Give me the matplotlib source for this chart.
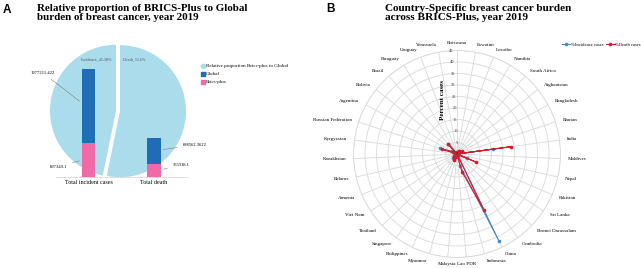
import numpy as np
import matplotlib.pyplot as plt

# ---- Panel A data
pie_labels = ["Incidence, 45.38%", "Death, 51.6%"]
pie_values = [45.38, 51.6]
bar_categories = ["Total incident cases", "Total death"]
brics_values = [897349.1, 355318.1]
global_values = [1977211.422, 688562.3622]

# ---- Panel B data (% of BRICS-Plus)
countries = ["Botswana", "Eswatini", "Lesotho", "Namibia", "South Africa", "Afghanistan",
             "Bangladesh", "Bhutan", "India", "Maldives", "Nepal", "Pakistan", "Sri Lanka",
             "Brunei Darussalam", "Cambodia", "China", "Indonesia", "Lao PDR", "Malaysia",
             "Myanmar", "Philippines", "Singapore", "Thailand", "Viet Nam", "Armenia",
             "Belarus", "Kazakhstan", "Kyrgyzstan", "Russian Federation", "Argentina",
             "Bolivia", "Brazil", "Paraguay", "Uruguay", "Venezuela"]
incidence_pct = [0.1, 0.05, 0.05, 0.1, 1.5, 0.6, 1.9, 0.02, 16.0, 0.01, 0.4, 4.5, 0.5,
                 0.02, 0.2, 42.0, 5.5, 0.1, 0.8, 1.0, 2.6, 0.3, 2.3, 1.6, 0.2, 0.5, 0.6,
                 0.1, 8.0, 2.3, 0.2, 6.0, 0.2, 0.3, 0.8]
death_pct = [0.1, 0.05, 0.06, 0.1, 1.5, 1.1, 2.6, 0.02, 23.5, 0.01, 0.6, 9.0, 0.6,
             0.02, 0.3, 27.0, 8.0, 0.1, 0.9, 1.5, 3.0, 0.2, 2.0, 1.8, 0.2, 0.6, 0.7,
             0.1, 7.0, 1.9, 0.3, 6.0, 0.2, 0.2, 0.8]
r_ticks = [0, 5, 10, 15, 20, 25, 30, 35, 40, 45]

light_blue = "#abdcec"
dark_blue = "#1f6db5"
pink = "#f06aa8"
inc_color = "#4a8ac4"
death_color = "#d0202e"
serif = "Liberation Serif"

W, H = 641, 268
fig = plt.figure(figsize=(W / 100, H / 100), dpi=100)

def px(x, y, w, h):
    # pixel box (from top-left) -> figure fraction
    return [x / W, 1 - (y + h) / H, w / W, h / H]

# panel letters and titles
fig.text(3 / W, 1 - 4 / H, "A", fontsize=8.5, fontweight="bold", family="Liberation Sans", va="top")
fig.text(326 / W, 1 - 3 / H, "B", fontsize=8.5, fontweight="bold", family="Liberation Sans", va="top")
fig.text(37 / W, 1 - 4 / H, "Relative proportion of BRICS-Plus to Global\nburden of breast cancer, year 2019",
         fontsize=7.9, fontweight="bold", family=serif, va="top", linespacing=1.0)
fig.text(385 / W, 1 - 4 / H, "Country-Specific breast cancer burden\nacross BRICS-Plus, year 2019",
         fontsize=8.1, fontweight="bold", family=serif, va="top", linespacing=1.0)

# ---- Panel A: pie behind
ax_pie = fig.add_axes(px(118 - 70, 111 - 70, 140, 140))
ax_pie.pie(pie_values, colors=[light_blue, light_blue], startangle=90, counterclock=True,
           explode=(0.03, 0.03), wedgeprops=dict(linewidth=0))
ax_pie.set_xlim(-1.06, 1.06)
ax_pie.set_ylim(-1.06, 1.06)
ax_pie.axis("off")
ax_pie.text(-0.33, 0.76, pie_labels[0], fontsize=3, family=serif, ha="center", color="#555555")
ax_pie.text(0.24, 0.76, pie_labels[1], fontsize=3, family=serif, ha="center", color="#555555")

# ---- Panel A: stacked bars in front
ax_bar = fig.add_axes(px(56, 45.5, 132, 131.5))
ax_bar.patch.set_visible(False)
xb = np.arange(len(bar_categories))
ax_bar.bar(xb, brics_values, width=0.2, color=pink, label="Brics-plus")
ax_bar.bar(xb, global_values, width=0.2, bottom=brics_values, color=dark_blue, label="Global")
ax_bar.set_xlim(-0.496, 1.52)
ax_bar.set_ylim(0, 3.5e6)
ax_bar.set_yticks([])
ax_bar.set_xticks(xb)
ax_bar.set_xticklabels(bar_categories, fontsize=4.3, family=serif)
ax_bar.tick_params(axis="x", length=0, pad=2)
for s in ["top", "left", "right"]:
    ax_bar.spines[s].set_visible(False)
ax_bar.spines["bottom"].set_color("#d9d9d9")
ax_bar.spines["bottom"].set_linewidth(0.6)

ann = dict(fontsize=3.3, family=serif, va="center", annotation_clip=False,
           arrowprops=dict(arrowstyle="-", color="#7f7f7f", lw=0.4))
ax_bar.annotate(f"{global_values[0]}", xy=(-0.1, 1.97e6), xytext=(-0.51, 2.77e6), ha="right", **ann)
ax_bar.annotate(f"{brics_values[0]}", xy=(-0.1, 0.45e6), xytext=(-0.33, 0.27e6), ha="right", **ann)
ax_bar.annotate(f"{global_values[1]}", xy=(1.1, 0.72e6), xytext=(1.44, 0.85e6), ha="left", **ann)
ax_bar.annotate(f"{brics_values[1]}", xy=(1.1, 0.19e6), xytext=(1.29, 0.32e6), ha="left", **ann)

# legend for panel A
leg_items = [("o", light_blue, "Relative proportion Brics-plus to Global"),
             ("s", dark_blue, "Global"), ("s", pink, "Brics-plus")]
for i, (m, c, t) in enumerate(leg_items):
    yy = 1 - (66 + 8 * i) / H
    fig.lines.append(plt.Line2D([203 / W], [yy], marker=m, color=c, markersize=3,
                                linestyle="none", transform=fig.transFigure))
    fig.text(206 / W, yy, t, fontsize=3.6, family=serif, va="center")

# ---- Panel B: radar
R = 103.5
ax = fig.add_axes(px(457 - R, 154 - R, 2 * R, 2 * R), projection="polar")
ax.set_theta_zero_location("N")
ax.set_theta_direction(-1)
n = len(countries)
theta = np.linspace(0, 2 * np.pi, n, endpoint=False)
th_c = np.append(theta, theta[0])
ax.plot(th_c, np.append(incidence_pct, incidence_pct[0]), color=inc_color, lw=0.8,
        marker="o", markersize=1.6, label="%Incidence cases")
ax.plot(th_c, np.append(death_pct, death_pct[0]), color=death_color, lw=0.8,
        marker="o", markersize=1.6, label="%Death cases")
ax.set_ylim(0, 45)
ax.set_yticks(r_ticks)
ax.set_yticklabels([])
ax.set_xticks(theta)
ax.set_xticklabels([])
ax.grid(color="#d9d9d9", lw=0.6)
ax.spines["polar"].set_color("#d9d9d9")
ax.spines["polar"].set_linewidth(0.6)
for r in r_ticks:
    ax.text(np.deg2rad(-3), r, str(r), fontsize=3.2, family=serif, ha="center", va="center",
            color="#333333")
for t, name in zip(theta, countries):
    s = np.sin(t)
    ha = "center" if abs(s) < 0.15 else ("left" if s > 0 else "right")
    ax.text(t, 48.2, name, fontsize=3.6, family=serif, ha=ha, va="center")
fig.text(443 / W, 1 - 100 / H, "Percent cases", fontsize=5, fontweight="bold", family=serif,
         rotation=90, ha="center", va="center")
fig.legend(handles=ax.get_lines(), loc="center right", bbox_to_anchor=(641 / W, 1 - 45 / H),
           ncol=2, frameon=False, prop=dict(family=serif, size=3.3), borderpad=0,
           borderaxespad=0, handlelength=1.8, columnspacing=0.6, handletextpad=0.2)

fig.savefig("out.png", dpi=100)
